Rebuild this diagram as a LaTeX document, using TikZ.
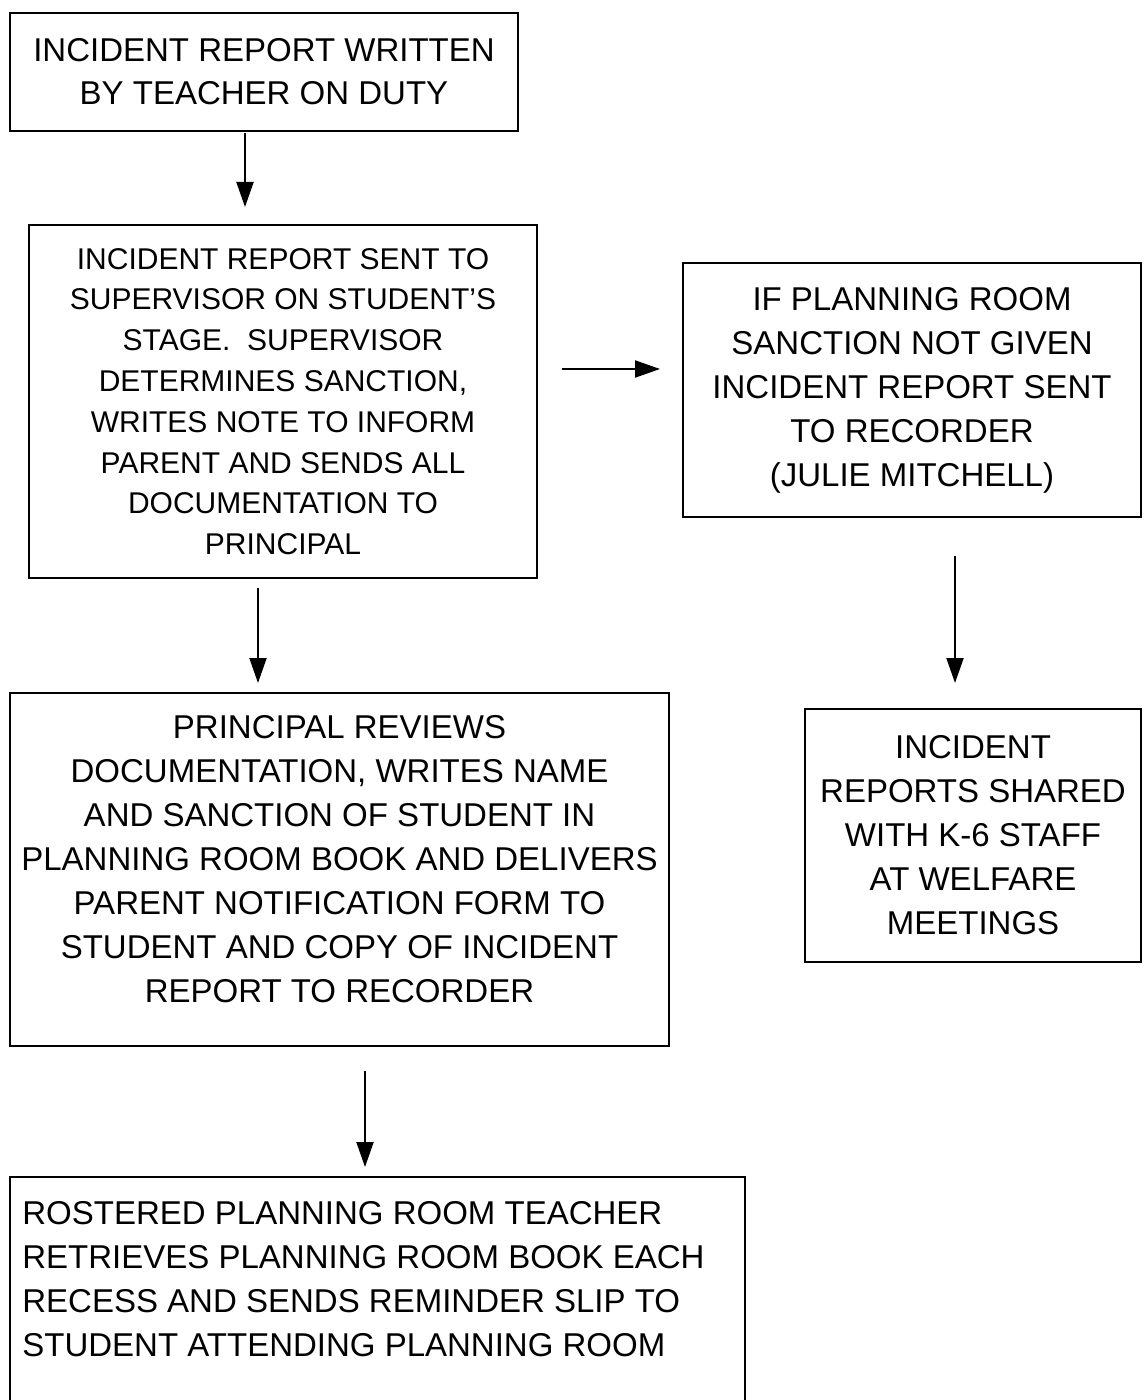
\documentclass[tikz,border=0pt]{standalone}
\usepackage{fontspec}
\setmainfont{Liberation Sans}
\usetikzlibrary{arrows.meta,calc}
\begin{document}
\begin{tikzpicture}[x=0.5pt,y=-0.5pt,
  box/.style={draw,line width=1.2pt,inner sep=0pt,outer sep=0pt,align=center,font=\fontsize{16.5}{22}\selectfont},
  txt/.style={inner sep=0pt,align=center,font=\fontsize{16.5}{22}\selectfont},
  arr/.style={line width=1pt,-{Triangle[length=12.5pt,width=8.5pt]}}]
\useasboundingbox (0,0) rectangle (1146,1400);
\node[box,minimum width=254pt,minimum height=59pt,font=\fontsize{16.5}{21.5}\selectfont] (b1) at (264,72)
  {INCIDENT REPORT WRITTEN\\BY TEACHER ON DUTY};
\node[box,minimum width=254pt,minimum height=176.5pt,font=\fontsize{15}{20.4}\selectfont] (b2) at (283,401.5)
  {INCIDENT REPORT SENT TO\\SUPERVISOR ON STUDENT'S\\STAGE.~~SUPERVISOR\\DETERMINES SANCTION,\\WRITES NOTE TO INFORM\\PARENT AND SENDS ALL\\DOCUMENTATION TO\\PRINCIPAL};
\node[box,minimum width=229pt,minimum height=127pt] (b3) at (912,390)
  {IF PLANNING ROOM\\SANCTION NOT GIVEN\\INCIDENT REPORT SENT\\TO RECORDER\\(JULIE MITCHELL)};
\node[box,minimum width=329.5pt,minimum height=176.5pt] (b4) at (339.5,869.5) {};
\node[txt] (t4) at (339.5,859)
  {PRINCIPAL REVIEWS\\DOCUMENTATION, WRITES NAME\\AND SANCTION OF STUDENT IN\\PLANNING ROOM BOOK AND DELIVERS\\PARENT NOTIFICATION FORM TO\\STUDENT AND COPY OF INCIDENT\\REPORT TO RECORDER};
\node[box,minimum width=168pt,minimum height=126.5pt] (b5) at (973,835.5)
  {INCIDENT\\REPORTS SHARED\\WITH K-6 STAFF\\AT WELFARE\\MEETINGS};
\node[box,anchor=north west,minimum width=367.5pt,minimum height=121.5pt] (b6) at (10,1177) {};
\node[txt,anchor=base west,align=left] (t6) at (22,1356)
  {ROSTERED PLANNING ROOM TEACHER\\RETRIEVES PLANNING ROOM BOOK EACH\\RECESS AND SENDS REMINDER SLIP TO\\STUDENT ATTENDING PLANNING ROOM};
\draw[arr] ($(b1.south)+(-19,2)$) -- ($(b2.north)+(-38,-18)$);
\draw[arr] ($(b2.east)+(25,-32.5)$) -- ($(b3.west)+(-23,-21)$);
\draw[arr] ($(b3.south)+(43,39)$) -- ($(b5.north)+(-18,-26)$);
\draw[arr] ($(b2.south)+(-25,10)$) -- ($(b4.north)+(-81.5,-10)$);
\draw[arr] ($(b4.south)+(25.5,25)$) -- ($(b6.north)+(-12.5,-10)$);
\end{tikzpicture}
\end{document}
